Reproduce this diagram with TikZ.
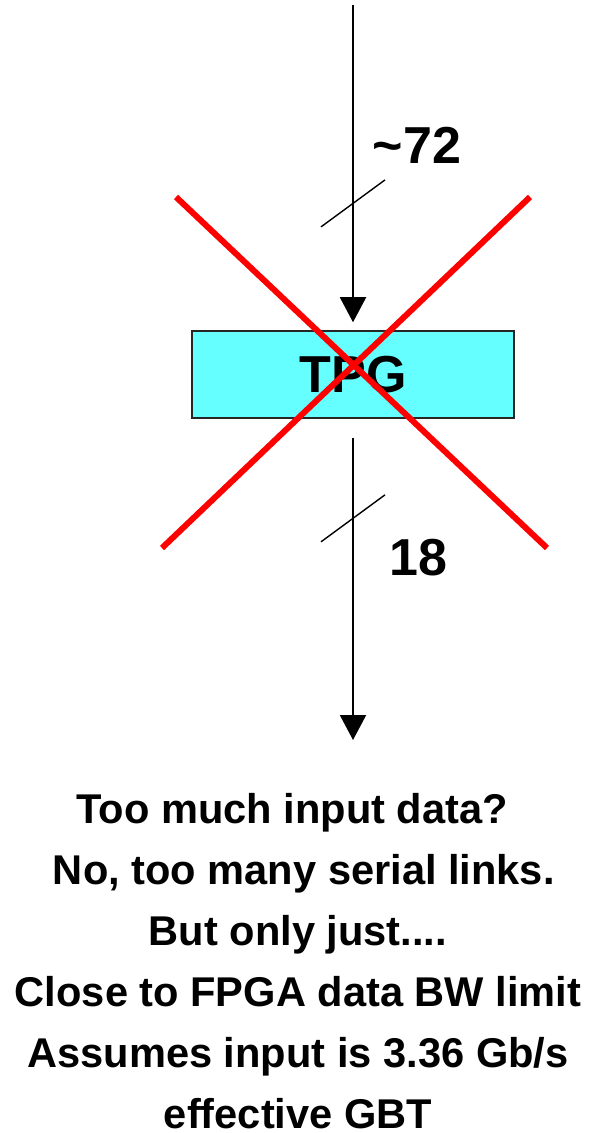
\documentclass[tikz,border=0pt]{standalone}
\usepackage{fontspec}
\setmainfont{Liberation Sans}
\usepackage{tikz}
\usetikzlibrary{arrows.meta,positioning}
\definecolor{tpgfill}{HTML}{66FFFF}

\begin{document}
\begin{tikzpicture}[x=0.5pt, y=-0.5pt,
  box/.style={draw=black!85, line width=0.75pt, fill=tpgfill, minimum width=161pt, minimum height=43.5pt, inner sep=0pt, font=\fontsize{26}{30}\selectfont\bfseries},
  arr/.style={-{Triangle[length=12.5pt, width=13pt]}, line width=1pt},
  bus/.style={line width=0.7pt},
  lbl/.style={anchor=base, inner sep=0pt, font=\fontsize{26}{30}\selectfont\bfseries},
  cross/.style={red, line width=3pt},
  note/.style={align=center, anchor=north, inner sep=0pt, font=\fontsize{20.8}{30.5}\selectfont\bfseries}
]
  \useasboundingbox (0,0) rectangle (596,1133);

  \coordinate (in) at (353,5);
  \node[box] (tpg) at (353,374.5) {TPG};
  \coordinate (out) at (353,740);

  \draw[arr, shorten >=4pt] (in) -- coordinate[pos=0.61] (busin) (tpg);
  \draw[arr, shorten <=9.5pt] (tpg) -- coordinate[pos=0.31] (busout) (out);
  \draw[bus] ([shift={(-32,23.5)}]busin) -- ([shift={(32,-23.5)}]busin);
  \draw[bus] ([shift={(-32,23.5)}]busout) -- ([shift={(32,-23.5)}]busout);

  \node[lbl] (nin) at (417,164) {\textasciitilde72};
  \node[lbl] (nout) at (418,575) {18};

  % crossed out
  \draw[cross] (176,197) -- (547,548);
  \draw[cross] (530,197) -- (162,548);

  \node[note] (remark) at (298,793) {Too much input data?\hspace*{.28em}\\
    \hspace*{.28em}No, too many serial links.\\
    But only just....\\
    Close to FPGA data BW limit\\
    Assumes input is 3.36 Gb/s\\
    effective GBT};
\end{tikzpicture}
\end{document}
